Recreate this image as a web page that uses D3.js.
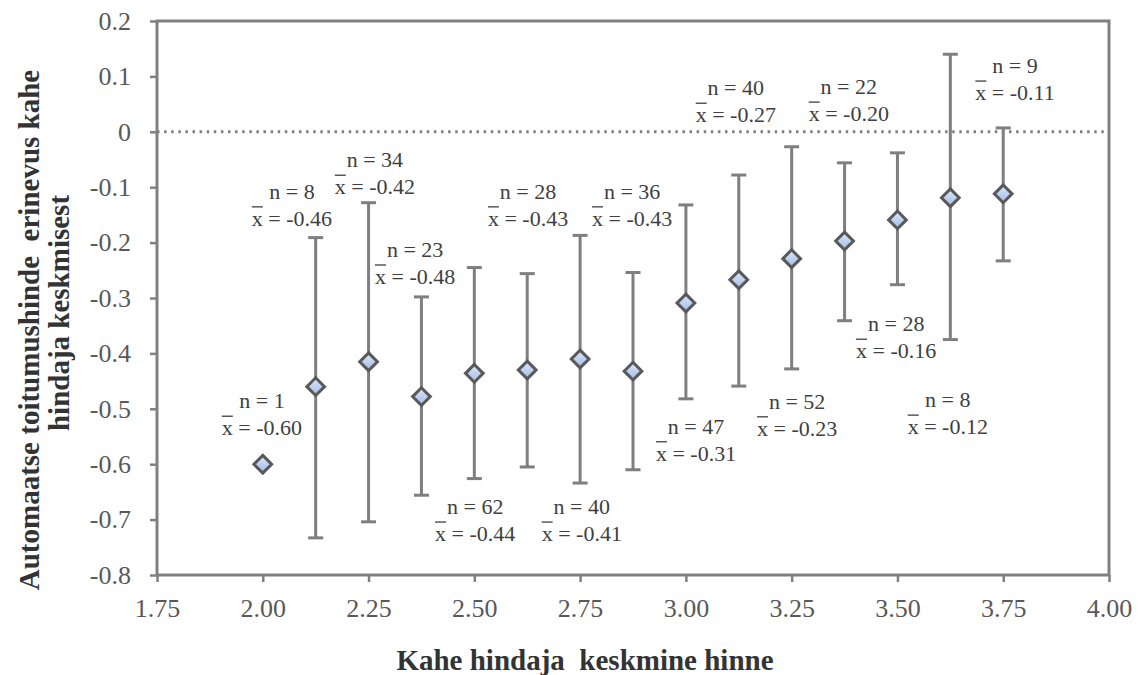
<!DOCTYPE html>
<html>
<head>
<meta charset="utf-8">
<script src="https://cdn.jsdelivr.net/npm/d3@7"></script>
<style>
  body { margin: 0; background: #fff; }
  text { font-family: "Liberation Serif", "Times New Roman", serif; }
</style>
</head>
<body>
<div id="chart"></div>
<script>
// data
const grades = [2.0, 2.125, 2.25, 2.375, 2.5, 2.625, 2.75, 2.875, 3.0, 3.125, 3.25, 3.375, 3.5, 3.625, 3.75];
const means = [-0.60, -0.46, -0.415, -0.478, -0.436, -0.43, -0.41, -0.432, -0.309, -0.267, -0.229, -0.197, -0.159, -0.119, -0.112];
const upper = [null, -0.191, -0.128, -0.298, -0.245, -0.256, -0.187, -0.254, -0.132, -0.078, -0.027, -0.056, -0.038, 0.14, 0.007];
const lower = [null, -0.733, -0.704, -0.656, -0.626, -0.605, -0.634, -0.61, -0.482, -0.459, -0.428, -0.341, -0.276, -0.375, -0.233];
const counts = [1, 8, 34, 23, 62, 28, 40, 36, 47, 40, 52, 22, 28, 8, 9];
const meanText = ["-0.60", "-0.46", "-0.42", "-0.48", "-0.44", "-0.43", "-0.41", "-0.43", "-0.31", "-0.27", "-0.23", "-0.20", "-0.16", "-0.12", "-0.11"];
const xTicks = [1.75, 2.0, 2.25, 2.5, 2.75, 3.0, 3.25, 3.5, 3.75, 4.0];
const yTicks = [-0.8, -0.7, -0.6, -0.5, -0.4, -0.3, -0.2, -0.1, 0, 0.1, 0.2];

// where the labels sit (in data units): centre x, baseline of the "n" line
const labelX = [1.998, 2.069, 2.265, 2.36, 2.502, 2.627, 2.754, 2.873, 3.024, 3.118, 3.263, 3.385, 3.497, 3.619, 3.778];
const labelY = [-0.499, -0.121, -0.064, -0.226, -0.69, -0.121, -0.69, -0.121, -0.545, 0.066, -0.5, 0.068, -0.36, -0.497, 0.106];

const W = 1139, H = 675;
const margin = { top: 21, right: 30, bottom: 100, left: 157 };
const width = W - margin.left - margin.right;
const height = H - margin.top - margin.bottom;

const svg = d3.select("#chart").append("svg")
  .attr("width", W)
  .attr("height", H);

const defs = svg.append("defs");
const grad = defs.append("linearGradient")
  .attr("id", "dia").attr("x1", 0).attr("y1", 0).attr("x2", 0).attr("y2", 1);
grad.append("stop").attr("offset", "0%").attr("stop-color", "#dfe8f8");
grad.append("stop").attr("offset", "100%").attr("stop-color", "#9fbbe9");

const g = svg.append("g")
  .attr("transform", `translate(${margin.left},${margin.top})`);

const x = d3.scaleLinear().domain([1.75, 4.0]).range([0, width]);
const y = d3.scaleLinear().domain([-0.8, 0.2]).range([height, 0]);

// axes
const xAxis = g.append("g")
  .attr("transform", `translate(0,${height})`)
  .call(d3.axisBottom(x).tickValues(xTicks).tickSize(7).tickFormat(d => d.toFixed(2)));
xAxis.selectAll("text").attr("y", 41.5).attr("dy", null);

const yAxis = g.append("g")
  .call(d3.axisLeft(y).tickValues(yTicks).tickSize(7).tickPadding(19)
    .tickFormat(d => Math.abs(d) < 1e-9 ? "0" : d.toFixed(1)));

[xAxis, yAxis].forEach(a => {
  a.select(".domain").remove();
  a.selectAll("line").attr("stroke", "#808080").attr("stroke-width", 2.5);
  a.selectAll("text").attr("fill", "#595959").style("font-size", "26px")
    .style("font-family", "'Liberation Serif', serif");
});

// frame
g.append("rect")
  .attr("width", width).attr("height", height)
  .attr("fill", "none").attr("stroke", "#808080").attr("stroke-width", 3);

// zero line
g.append("line")
  .attr("x1", 0).attr("x2", width)
  .attr("y1", y(0)).attr("y2", y(0))
  .attr("stroke", "#808080").attr("stroke-width", 3)
  .attr("stroke-dasharray", "2.5,4.6");

const idx = d3.range(grades.length);

// error bars
const eb = g.selectAll(".eb")
  .data(idx.filter(i => upper[i] !== null))
  .enter().append("g").attr("class", "eb")
  .attr("stroke", "#7f7f7f").attr("stroke-width", 3);
eb.append("line")
  .attr("x1", i => x(grades[i])).attr("x2", i => x(grades[i]))
  .attr("y1", i => y(upper[i])).attr("y2", i => y(lower[i]));
eb.append("line")
  .attr("x1", i => x(grades[i]) - 7.5).attr("x2", i => x(grades[i]) + 7.5)
  .attr("y1", i => y(upper[i])).attr("y2", i => y(upper[i]));
eb.append("line")
  .attr("x1", i => x(grades[i]) - 7.5).attr("x2", i => x(grades[i]) + 7.5)
  .attr("y1", i => y(lower[i])).attr("y2", i => y(lower[i]));

// mean markers
const diamond = d3.symbol().type(d3.symbolDiamond2).size(200);
g.selectAll(".pt")
  .data(idx)
  .enter().append("path")
  .attr("class", "pt")
  .attr("d", diamond)
  .attr("transform", i => `translate(${x(grades[i])},${y(means[i])})`)
  .attr("fill", "url(#dia)")
  .attr("stroke", "#595959")
  .attr("stroke-width", 3);

// n / mean labels
const lab = g.selectAll(".lab")
  .data(idx)
  .enter().append("g").attr("class", "lab")
  .attr("transform", i => `translate(${x(labelX[i])},${y(labelY[i])})`);

lab.append("text")
  .attr("text-anchor", "middle")
  .attr("fill", "#404040")
  .style("font-size", "22px")
  .text(i => "n = " + counts[i]);

lab.append("text")
  .attr("class", "mt")
  .attr("y", 27)
  .attr("text-anchor", "middle")
  .attr("fill", "#404040")
  .style("font-size", "22px")
  .text(i => "x = " + meanText[i]);

// bar over the x
lab.each(function () {
  const t = d3.select(this).select(".mt").node();
  const bb = t.getBBox();
  const w = t.getSubStringLength(0, 1);
  d3.select(this).append("line")
    .attr("x1", bb.x).attr("x2", bb.x + w)
    .attr("y1", 27 - 19).attr("y2", 27 - 19)
    .attr("stroke", "#595959").attr("stroke-width", 1.5);
});

// axis titles
svg.append("text")
  .attr("x", 585)
  .attr("y", 670)
  .attr("text-anchor", "middle")
  .attr("fill", "#333")
  .style("font-size", "29px").style("font-weight", "bold")
  .style("white-space", "pre")
  .text("Kahe hindaja  keskmine hinne");

svg.append("text")
  .attr("transform", "translate(39,330) rotate(-90)")
  .attr("text-anchor", "middle")
  .attr("fill", "#333")
  .style("font-size", "29px").style("font-weight", "bold")
  .style("white-space", "pre")
  .text("Automaatse toitumushinde  erinevus kahe");

svg.append("text")
  .attr("transform", "translate(69,313) rotate(-90)")
  .attr("text-anchor", "middle")
  .attr("fill", "#333")
  .style("font-size", "29px").style("font-weight", "bold")
  .text("hindaja keskmisest");
</script>
</body>
</html>
